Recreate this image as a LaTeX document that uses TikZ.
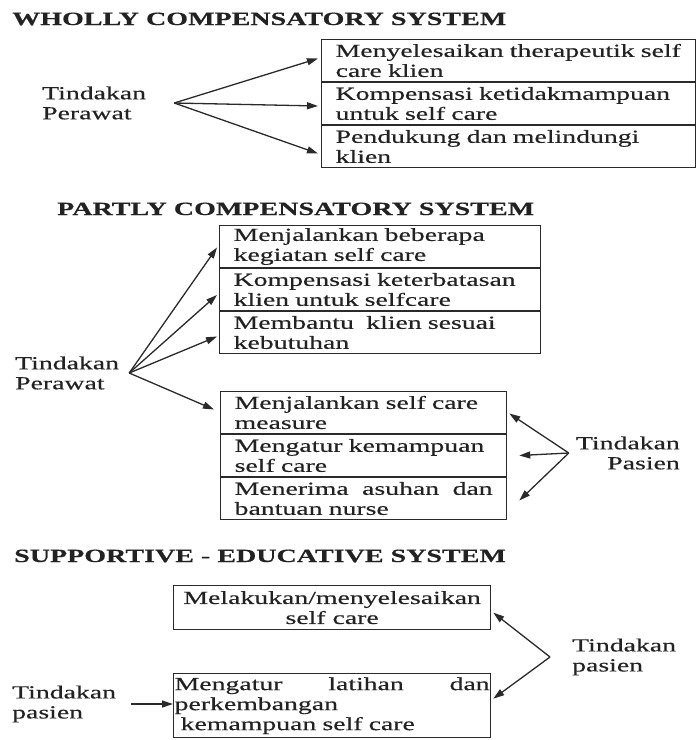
\documentclass[tikz,border=0pt]{standalone}
\usepackage{fontspec}
\setmainfont[FakeStretch=1.5,FakeBold=0.4]{Liberation Serif}
\usepackage{xcolor}
\usepackage{tikz}
\usetikzlibrary{arrows.meta,positioning}
\definecolor{cink}{HTML}{222222}
\definecolor{cline}{HTML}{2A2A2A}
\tikzset{>={Triangle[length=11pt,width=7pt]},
  rowbox/.style={draw=cline,line width=1.3pt,inner xsep=14pt,inner ysep=0pt,minimum height=41.7pt,text width=#1,align=left},
  hd/.style={font=\bfseries\fontsize{18.7}{20}\selectfont,anchor=base west,inner sep=0pt},
  lbl/.style={inner sep=0pt},
  arr/.style={->,line width=1.3pt,draw=cline}}

\begin{document}
\begin{tikzpicture}[x=1pt,y=-1pt,font=\fontsize{18.5}{20}\selectfont,text=cink]
\useasboundingbox (0,0) rectangle (696,740);

% ===== Wholly compensatory system =====
\begin{scope}
  \node[hd] (t1) at (12,25) {WHOLLY COMPENSATORY SYSTEM};
  \node[rowbox=346pt,anchor=north west] (w1) at (321,39) {\mbox{Menyelesaikan therapeutik self}\\care klien};
  \node[rowbox=346pt,below=0pt of w1] (w2) {Kompensasi ketidakmampuan\\untuk self care};
  \node[rowbox=346pt,below=0pt of w2] (w3) {Pendukung dan melindungi\\klien};
  \node[lbl,anchor=west,align=left] (nurse1) at (42,103) {Tindakan\\Perawat};
  \coordinate (p1) at ([xshift=28pt]nurse1.east);
  \draw[arr] (p1) -- ([xshift=-3pt,yshift=2pt]w1.west);
  \draw[arr] (p1) -- ([xshift=-3pt,yshift=-2.5pt]w2.west);
  \draw[arr] (p1) -- ([xshift=-3pt,yshift=-7pt]w3.west);
\end{scope}

% ===== Partly compensatory system =====
\begin{scope}
  \node[hd] (t2) at (57,215) {PARTLY COMPENSATORY SYSTEM};
  \node[rowbox=293pt,anchor=north west] (pa1) at (219,225) {Menjalankan beberapa\\kegiatan self care};
  \node[rowbox=293pt,below=0pt of pa1] (pa2) {Kompensasi keterbatasan\\klien untuk selfcare};
  \node[rowbox=293pt,below=0pt of pa2] (pa3) {Membantu\ \ klien sesuai\\kebutuhan};
  \node[rowbox=258pt,anchor=north west] (pb1) at (220,391) {Menjalankan self care\\measure};
  \node[rowbox=258pt,below=0pt of pb1] (pb2) {Mengatur kemampuan\\self care};
  \node[rowbox=258pt,below=0pt of pb2] (pb3) {Menerima\hfill asuhan\hfill dan\\bantuan nurse};
  \node[lbl,anchor=west,align=left] (nurse2) at (15,373) {Tindakan\\Perawat};
  \coordinate (p2) at ([xshift=10pt]nurse2.east);
  \draw[arr] (p2) -- ([xshift=-2pt,yshift=-1pt]pa1.west);
  \draw[arr] (p2) -- ([xshift=-2pt,yshift=-5.5pt]pa2.west);
  \draw[arr] (p2) -- ([xshift=-2pt,yshift=-4pt]pa3.west);
  \draw[arr] (p2) -- ([xshift=-6pt,yshift=3pt]pb1.west);
  % patient side
  \node[lbl,anchor=east,align=right] (patient2) at (680,453) {Tindakan\\Pasien};
  \coordinate (p3) at ([xshift=-7pt]patient2.west);
  \draw[arr] (p3) -- ([xshift=2pt,yshift=-1pt]pb1.east);
  \draw[arr] (p3) -- ([xshift=12pt]pb2.east);
  \draw[arr] (p3) -- ([xshift=12pt,yshift=-2pt]pb3.east);
\end{scope}

% ===== Supportive - educative system =====
\begin{scope}
  \node[hd] (t3) at (14,562) {SUPPORTIVE - EDUCATIVE SYSTEM};
  \node[draw=cline,line width=1.3pt,anchor=north west,minimum width=317pt,minimum height=44pt,inner sep=0pt,align=center] (se1) at (173,585) {Melakukan/menyelesaikan\\self care};
  \node[rowbox=315pt,inner xsep=1pt,minimum height=64pt,anchor=north west] (se2) at (173,673) {Mengatur\hfill latihan\hfill dan\\perkembangan\\\hspace*{6pt}kemampuan self care};
  \node[lbl,anchor=west,align=left] (patient3) at (12,704) {Tindakan\\pasien};
  \draw[arr] ([xshift=15pt]patient3.east) -- (patient3.east -| se2.west);
  \node[lbl,anchor=west,align=left] (patient4) at (572,657) {Tindakan\\pasien};
  \coordinate (p4) at ([xshift=-22pt]patient4.west);
  \draw[arr] (p4) -- ([xshift=2pt,yshift=-5pt]se1.east);
  \draw[arr] (p4) -- ([xshift=2pt,yshift=7pt]se2.east);
\end{scope}

\end{tikzpicture}
\end{document}
